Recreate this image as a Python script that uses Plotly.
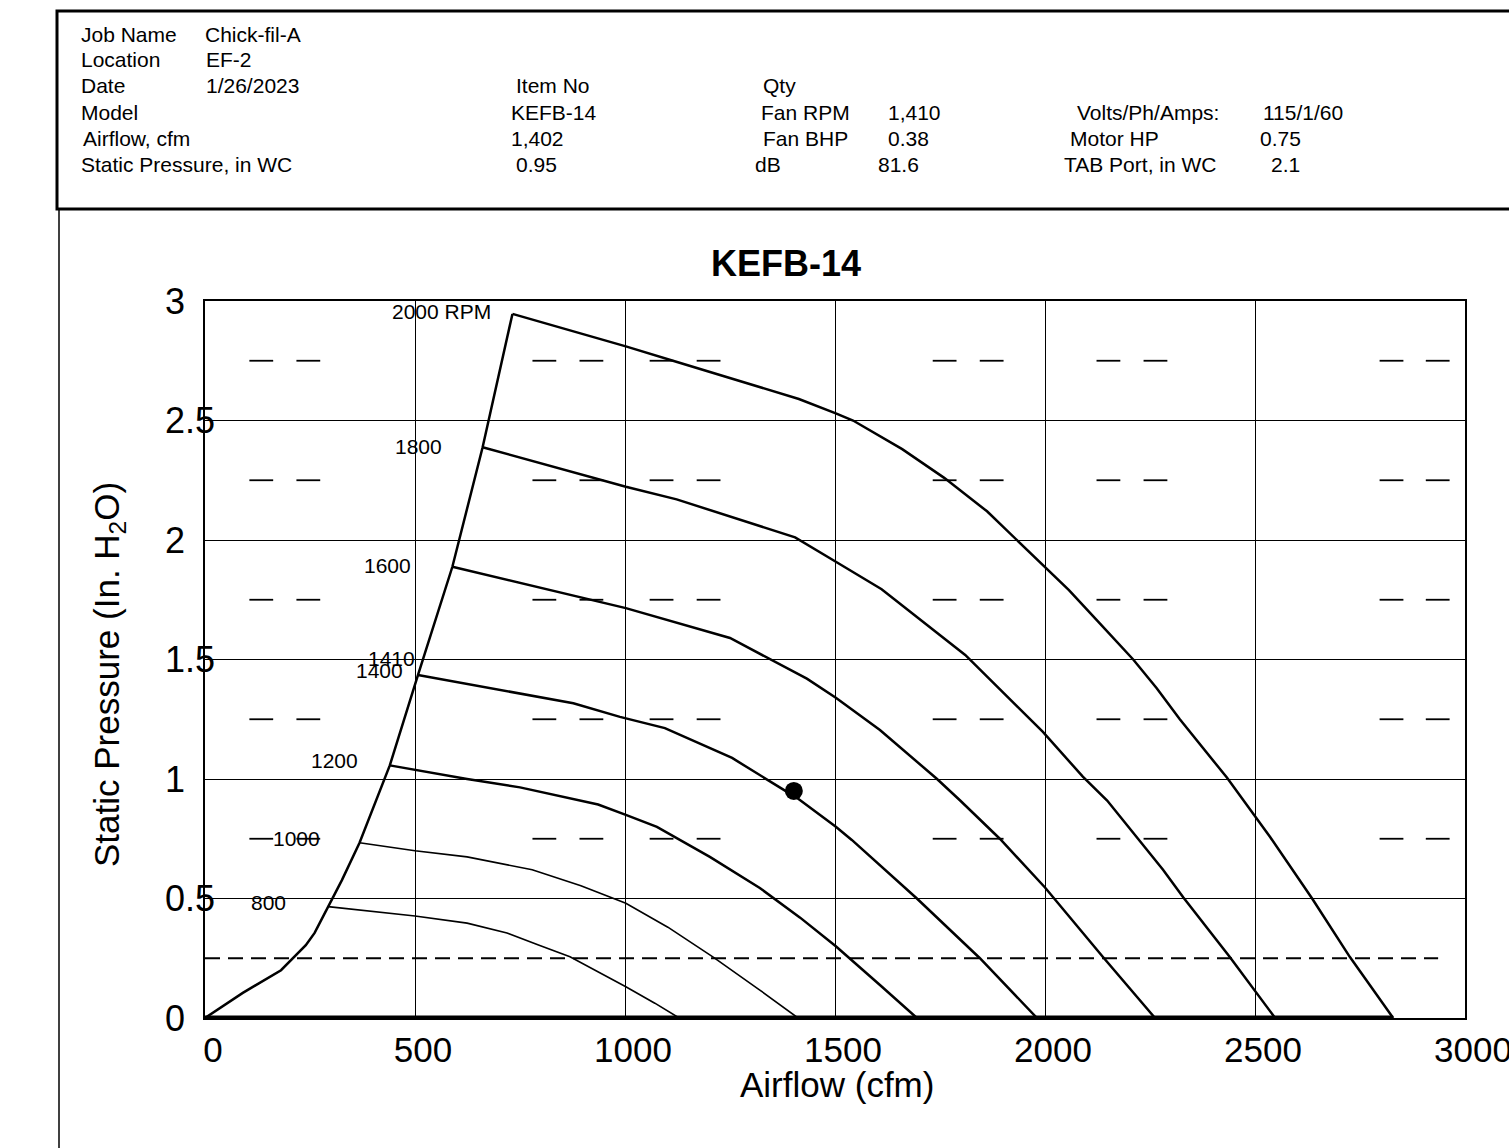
import plotly.graph_objects as go

# ---- Fan curve data (airflow cfm, static pressure in. WC) ----
boundary_x = [0, 90, 181, 240, 261, 293, 326, 368, 440, 507, 589, 661, 732]
boundary_y = [0, 0.105, 0.20, 0.305, 0.356, 0.464, 0.577, 0.733, 1.057, 1.435, 1.888, 2.388, 2.946]

c800_x = [293, 500, 624, 719, 794, 869, 1002, 1071, 1129]
c800_y = [0.466, 0.427, 0.397, 0.356, 0.305, 0.256, 0.131, 0.062, 0]

c1000_x = [368, 500, 624, 779, 895, 1002, 1102, 1210, 1321, 1412]
c1000_y = [0.733, 0.70, 0.674, 0.62, 0.553, 0.48, 0.38, 0.255, 0.117, 0]

c1200_x = [440, 624, 750, 936, 1002, 1076, 1202, 1321, 1417, 1502, 1607, 1695]
c1200_y = [1.057, 1.0, 0.965, 0.893, 0.85, 0.80, 0.674, 0.544, 0.42, 0.30, 0.138, 0]

c1400_x = [507, 877, 988, 1095, 1255, 1410, 1502, 1540, 1695, 1767, 1845, 1981]
c1400_y = [1.435, 1.317, 1.26, 1.213, 1.088, 0.92, 0.80, 0.745, 0.50, 0.38, 0.25, 0]

c1600_x = [589, 893, 1002, 1250, 1433, 1502, 1607, 1743, 1798, 1893, 2000, 2138, 2262]
c1600_y = [1.888, 1.76, 1.715, 1.59, 1.42, 1.34, 1.205, 1.0, 0.91, 0.749, 0.546, 0.255, 0]

c1800_x = [661, 940, 1002, 1123, 1405, 1502, 1611, 1810, 1995, 2090, 2148, 2281, 2329, 2440, 2548]
c1800_y = [2.388, 2.254, 2.223, 2.17, 2.011, 1.909, 1.794, 1.519, 1.197, 1.01, 0.91, 0.62, 0.505, 0.255, 0]

c2000_x = [732, 1002, 1124, 1324, 1414, 1502, 1543, 1660, 1760, 1862, 1933, 2000, 2057, 2131,
           2210, 2266, 2321, 2433, 2500, 2536, 2636, 2726, 2829]
c2000_y = [2.946, 2.81, 2.745, 2.64, 2.59, 2.53, 2.50, 2.38, 2.26, 2.12, 2.0, 1.89, 1.79, 1.65,
           1.50, 1.38, 1.25, 1.006, 0.845, 0.757, 0.50, 0.255, 0]

base_x = [0, 2829]
base_y = [0, 0]

# system / TAB line
tab_x = [0, 2936]
tab_y = [0.25, 0.25]

# short dash marks
dash_levels = [0.75, 1.25, 1.75, 2.25, 2.75]
dash_x = [134, 246, 808, 920, 1087, 1199, 1761, 1873, 2151, 2263, 2825, 2935]

# operating point
op_x = [1402]
op_y = [0.95]

rpm_labels = ["2000 RPM", "1800", "1600", "1410", "1400", "1200", "1000", "800"]

xtick_vals = [0, 500, 1000, 1500, 2000, 2500, 3000]
ytick_vals = [0, 0.5, 1, 1.5, 2, 2.5, 3]
ytick_text = ["0", "0.5", "1", "1.5", "2", "2.5", "3"]

header_rows = [
    [("Job Name", 79), ("Chick-fil-A", 203)],
    [("Location", 79), ("EF-2", 204)],
    [("Date", 79), ("1/26/2023", 204), ("Item No", 514), ("Qty", 761)],
    [("Model", 79), ("KEFB-14", 509), ("Fan RPM", 759), ("1,410", 886),
     ("Volts/Ph/Amps:", 1075), ("115/1/60", 1261)],
    [("Airflow, cfm", 81), ("1,402", 509), ("Fan BHP", 761), ("0.38", 886),
     ("Motor HP", 1068), ("0.75", 1258)],
    [("Static Pressure, in WC", 79), ("0.95", 514), ("dB", 753), ("81.6", 876),
     ("TAB Port, in WC", 1062), ("2.1", 1269)],
]
header_row_y = [34, 60, 86, 112.5, 139, 165]

FONT = "Liberation Sans, Arial, sans-serif"
W, H = 1509, 1148
L, R, T, B = 205, 1465, 301, 1018


def px_x(p):
    return (p - L) / (R - L)


def px_y(p):
    return (B - p) / (B - T)


fig = go.Figure()

curves = [
    (boundary_x, boundary_y, 2.5),
    (c800_x, c800_y, 1.6),
    (c1000_x, c1000_y, 1.6),
    (c1200_x, c1200_y, 2.5),
    (c1400_x, c1400_y, 2.5),
    (c1600_x, c1600_y, 2.5),
    (c1800_x, c1800_y, 2.5),
    (c2000_x, c2000_y, 2.5),
    (base_x, base_y, 5),
]
for cx, cy, w in curves:
    fig.add_trace(go.Scatter(x=cx, y=cy, mode="lines",
                             line=dict(color="black", width=w),
                             hoverinfo="skip", showlegend=False))

fig.add_trace(go.Scatter(x=tab_x, y=tab_y, mode="lines",
                         line=dict(color="black", width=2, dash="15px,8px"),
                         showlegend=False))

mx, my = [], []
for lvl in dash_levels:
    for dx in dash_x:
        mx.append(dx)
        my.append(lvl)
fig.add_trace(go.Scatter(x=mx, y=my, mode="markers",
                         marker=dict(symbol="line-ew", size=17, color="black",
                                     line=dict(color="black", width=1.8)),
                         showlegend=False))

fig.add_trace(go.Scatter(x=op_x, y=op_y, mode="markers",
                         marker=dict(symbol="circle", size=18, color="black"),
                         showlegend=False))

# RPM labels, right-aligned just left of each curve start
label_anchor = [(686, 2.954), (569, 2.393), (495, 1.895), (505, 1.506),
                (476, 1.456), (369, 1.079), (279, 0.749), (198, 0.482)]
ann = []
for txt, (ax_, ay_) in zip(rpm_labels, label_anchor):
    ann.append(dict(x=ax_, y=ay_, xref="x", yref="y", text=txt, showarrow=False,
                    xanchor="right", yanchor="middle",
                    font=dict(family=FONT, size=21, color="black")))

# y tick labels, left aligned
for v, t in zip(ytick_vals, ytick_text):
    ann.append(dict(x=px_x(163), y=v, xref="paper", yref="y", text=t, showarrow=False,
                    xanchor="left", yanchor="middle",
                    font=dict(family=FONT, size=36, color="black")))

# chart title and axis titles
ann.append(dict(x=px_x(786), y=px_y(263), xref="paper", yref="paper", text="<b>KEFB-14</b>",
                showarrow=False, xanchor="center", yanchor="middle",
                font=dict(family=FONT, size=36, color="black")))
ann.append(dict(x=px_x(837), y=px_y(1084), xref="paper", yref="paper", text="Airflow (cfm)",
                showarrow=False, xanchor="center", yanchor="middle",
                font=dict(family=FONT, size=35, color="black")))
ann.append(dict(x=px_x(109), y=px_y(674), xref="paper", yref="paper",
                text="Static Pressure (In. H<sub>2</sub>O)", textangle=-90,
                showarrow=False, xanchor="center", yanchor="middle",
                font=dict(family=FONT, size=35, color="black")))

# header block
for row, ry in zip(header_rows, header_row_y):
    for txt, hx in row:
        ann.append(dict(x=px_x(hx), y=px_y(ry), xref="paper", yref="paper", text=txt,
                        showarrow=False, xanchor="left", yanchor="middle",
                        font=dict(family=FONT, size=21, color="black")))

shapes = [
    dict(type="rect", xref="paper", yref="paper",
         x0=px_x(57), x1=px_x(1525), y0=px_y(209), y1=px_y(11),
         line=dict(color="black", width=3), layer="above"),
    dict(type="line", xref="paper", yref="paper",
         x0=px_x(59), x1=px_x(59), y0=px_y(209), y1=px_y(1160),
         line=dict(color="black", width=1.5)),
]

fig.update_layout(
    width=W, height=H,
    margin=dict(l=L, r=W - R, t=T, b=H - B, pad=0, autoexpand=False),
    paper_bgcolor="white", plot_bgcolor="white",
    showlegend=False,
    annotations=ann, shapes=shapes,
    font=dict(family=FONT, color="black"),
)
fig.update_xaxes(range=[0, 3000], tickvals=xtick_vals, showgrid=True,
                 gridcolor="black", gridwidth=1.3, showline=True, linecolor="black",
                 linewidth=1.5, mirror=True, zeroline=False, ticks="",
                 tickfont=dict(family=FONT, size=35, color="black"),
                 ticklabelshift=8, ticklabeloverflow="allow", automargin=False)
fig.update_yaxes(range=[0, 3], tickvals=ytick_vals, showgrid=True,
                 gridcolor="black", gridwidth=1.3, showline=True, linecolor="black",
                 linewidth=1.5, mirror=True, zeroline=False, ticks="",
                 showticklabels=False, automargin=False)

fig.write_html("out.html")
